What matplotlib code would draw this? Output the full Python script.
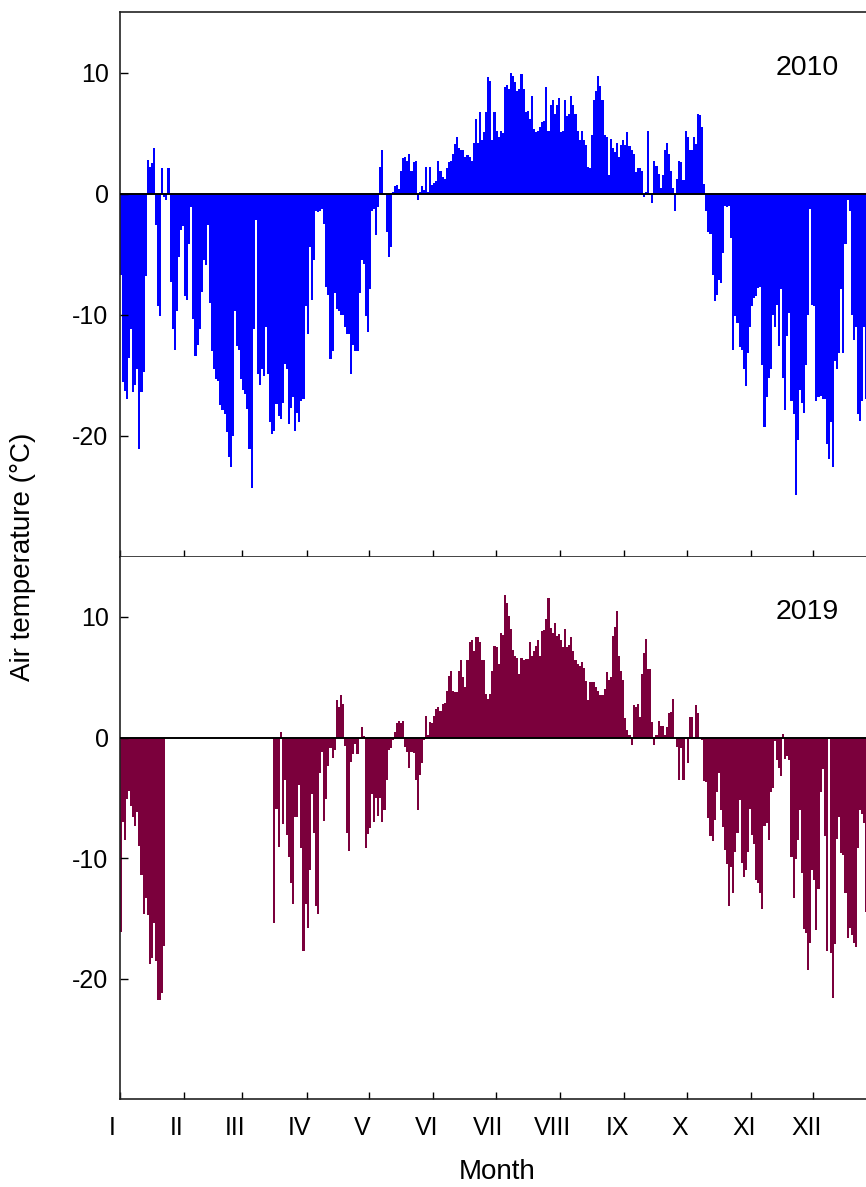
import numpy as np
import matplotlib
matplotlib.use('Agg')
import matplotlib.pyplot as plt
from matplotlib.transforms import ScaledTranslation

plt.rcParams['font.family'] = ['Liberation Sans', 'DejaVu Sans']
plt.rcParams['axes.unicode_minus'] = False

# daily mean air temperature, 2010 (days 0..364)
t2010_jan_mar = [
    -6.7, -15.6, -16.3, -17.0, -13.6, -11.2, -16.4, -15.8, -14.5, -21.1,
    -16.4, -14.7, -6.8, 2.8, 2.2, 2.5, 3.8, -2.6, -9.3, -10.1,
    2.1, -0.3, -0.5, 2.1, -7.3, -11.2, -12.9, -9.7, -5.2, -3.0,
    -2.7, -8.5, -8.8, -4.2, -1.1, -10.4, -13.4, -12.5, -11.2, -8.1,
    -5.5, -5.9, -2.6, -9.0, -13.0, -14.5, -15.3, -15.5, -17.5, -17.9,
    -18.2, -19.7, -21.8, -22.6, -20.0, -9.7, -12.6, -12.9, -15.3, -16.2,
    -16.6, -17.8, -21.1, -24.3, -11.2, -2.2, -14.9, -15.8, -14.5, -15.1,
    -11.0, -14.9, -18.9, -19.9, -19.6, -17.4, -18.4, -18.6, -17.3, -14.1,
    -14.5, -19.0, -17.7, -16.8, -19.6, -18.1, -18.9, -17.1, -17.0, -9.3,
    -11.6,
]
t2010_apr_jun = [
    -4.4, -8.8, -5.5, -1.4, -1.5, -1.4, -1.3, -2.5, -7.7, -8.4,
    -13.7, -13.0, -8.2, -9.5, -9.7, -10.0, -10.0, -11.0, -11.6, -11.6,
    -14.9, -12.5, -13.0, -13.0, -8.2, -5.5, -5.8, -10.1, -11.4, -7.9,
    -1.4, -1.3, -3.4, -1.1, 2.2, 3.6, -0.1, -3.2, -5.2, -4.4,
    0.1, 0.6, 0.7, 0.4, 1.9, 2.9, 3.0, 2.7, 3.3, 1.9,
    2.6, 2.7, -0.5, 0.1, 0.6, 0.3, 2.2, 0.1, 2.2, 0.7,
    0.9, 1.0, 2.7, 1.9, 1.4, 1.2, 2.1, 2.6, 2.7, 3.3,
    4.1, 4.7, 3.8, 3.6, 3.6, 3.0, 3.2, 3.0, 2.7, 4.2,
    6.2, 4.2, 6.7, 4.4, 5.1, 6.7, 9.6, 9.3, 4.4, 6.7,
    5.2, 4.7, 5.2, 5.0,
]
t2010_jul_oct = [
    8.8, 9.0, 8.6, 10.0, 9.7, 9.2, 8.5, 8.6, 9.9, 8.6,
    6.7, 6.8, 6.2, 8.1, 5.3, 5.1, 5.2, 5.5, 5.9, 6.0,
    8.8, 5.2, 7.3, 7.7, 6.6, 7.3, 7.9, 5.1, 5.2, 7.7,
    6.4, 6.6, 8.1, 7.3, 6.6, 5.2, 4.4, 5.2, 4.4, 4.0,
    2.2, 2.1, 4.8, 7.7, 8.5, 9.7, 8.9, 7.7, 4.8, 4.7,
    1.5, 4.5, 3.8, 3.4, 4.2, 3.0, 4.0, 4.4, 4.0, 5.1,
    3.9, 3.6, 3.3, 1.8, 2.1, 2.1, 1.9, -0.3, 0.1, 5.2,
    -0.1, -0.8, 2.7, 2.3, 1.6, 0.5, 1.5, 3.6, 4.2, 3.3,
    1.9, 0.5, -1.4, 1.2, 2.7, 2.6, 1.1, 5.2, 4.7, 3.6,
    3.6, 4.7, 4.1, 6.6, 6.5, 5.5, 0.8,
]
t2010_oct_dec = [
    -1.4, -3.2, -3.3, -6.7, -8.9, -8.4, -7.1, -7.4, -4.9, -1.0,
    -1.1, -1.0, -3.7, -12.9, -10.1, -10.7, -12.7, -12.9, -14.5, -15.9,
    -13.2, -11.0, -9.3, -8.6, -8.5, -7.8, -7.7, -14.2, -19.3, -16.8,
    -15.2, -14.5, -10.0, -11.0, -9.2, -12.6, -7.9, -15.2, -17.9, -11.8,
    -9.9, -17.1, -18.2, -24.9, -20.4, -16.2, -17.3, -18.1, -14.2, -10.0,
    -1.3, -9.2, -9.3, -17.1, -16.8, -16.7, -17.0, -17.0, -20.7, -21.9,
    -18.9, -22.6, -13.8, -14.5, -13.2, -7.9, -13.2, -4.2, -0.5, -1.4,
    -10.0, -12.1, -11.0, -18.2, -18.8, -17.1, -11.0, -17.0,
    -15.0, -12.0, -14.0, -16.0, -11.0,
]

# 2019, with a gap in the record from late January to mid March
t2019_jan = [
    -16.1, -7.0, -8.5, -5.1, -4.4, -5.7, -6.6, -7.3, -6.2, -9.0,
    -11.4, -14.6, -13.3, -14.7, -18.8, -18.3, -15.4, -18.5, -21.8, -21.8,
    -21.2, -17.3,
]
gap_2019 = [np.nan] * 52
t2019_mar_apr = [
    -15.4, -5.9, -9.1, 0.5, -7.2, -3.5, -8.1, -9.9, -12.1, -13.8,
    -6.6, -6.6, -3.9, -9.2, -17.7, -13.8, -15.8, -11.0, -4.7, -7.9,
    -14.0, -14.6, -2.9, -1.2, -6.9, -5.1, -2.4, -0.9, -1.7, -1.0,
    3.1, 2.5, 3.5, 2.8, -0.7, -7.9, -9.4, -2.0, -1.4, -0.5,
    -1.4, -0.1,
]
t2019_may_jul = [
    0.9, 0.1, -9.2, -8.0, -7.5, -4.7, -7.0, -5.0, -6.5, -5.0,
    -7.0, -6.0, -3.5, -1.0, -0.9, -0.2, 0.5, 1.2, 1.4, 1.2,
    1.4, -0.8, -1.2, -2.5, -1.2, -1.3, -3.5, -6.0, -3.1, -2.1,
    -0.2, 1.8, 0.2, 1.3, 1.2, 1.8, 2.4, 2.5, 2.2, 2.8,
    2.9, 3.9, 5.1, 5.5, 3.9, 3.8, 3.8, 5.5, 6.4, 5.0,
    4.2, 6.4, 7.9, 8.1, 7.2, 8.3, 8.3, 7.9, 6.4, 6.4,
    3.6, 3.2, 3.6, 5.5, 7.6, 7.5, 6.1, 8.7, 8.5, 11.8,
]
t2019_jul_oct = [
    11.2, 10.1, 9.0, 7.3, 6.8, 6.6, 5.3, 6.6, 6.4, 6.5,
    6.5, 7.9, 6.8, 7.2, 7.6, 8.1, 6.8, 8.8, 8.9, 9.8,
    11.6, 9.1, 8.7, 9.5, 8.4, 8.6, 8.1, 7.5, 9.0, 7.5,
    7.7, 8.3, 7.2, 6.4, 6.1, 5.9, 6.3, 5.8, 4.7, 3.1,
    4.6, 4.6, 4.6, 4.2, 3.9, 3.5, 3.5, 4.0, 5.4, 4.8,
    5.0, 8.4, 9.2, 10.5, 6.8, 5.5, 4.8, 1.6, 0.6, 0.2,
    -0.6, 2.7, 2.5, 2.8, 1.7, 5.3, 7.0, 8.2, 5.7, 5.7,
    1.3, -0.6, 0.2, 1.4, 1.0, 1.0, 0.2, 0.9, 2.0, 2.1,
    3.2, 0.0, -0.8, -3.5, -0.9, -3.5, -0.1, -2.1, 1.7, 1.7,
    0.0, 2.7, 2.0, 0.0, -0.2,
]
t2019_oct_dec = [
    -3.6, -3.7, -6.7, -8.2, -8.6, -6.8, -4.5, -2.9, -6.0, -7.4,
    -9.3, -10.5, -14.0, -10.7, -12.9, -9.5, -7.9, -5.2, -10.4, -11.6,
    -11.0, -9.5, -5.9, -8.1, -8.8, -11.8, -12.1, -12.9, -14.2, -7.3,
    -7.1, -8.5, -4.5, -4.2, -0.3, -1.9, -2.5, -3.2, 0.3, -1.8,
    -1.5, -1.9, -9.9, -13.3, -10.1, -8.5, -6.0, -11.2, -15.9, -16.2,
    -19.3, -17.0, -11.0, -11.8, -16.0, -12.6, -4.5, -2.6, -8.2, -17.7,
    -0.1, -17.9, -21.6, -17.1, -8.4, -6.6, -9.6, -9.7, -12.9, -16.6,
    -15.8, -16.4, -17.0, -17.4, -9.2, -6.0, -6.3, -7.1, -14.5,
    -12.0, -9.0, -13.5, -10.0, -8.0,
]

month_start = [0, 31, 59, 90, 120, 151, 181, 212, 243, 273, 304, 334]
month_labels = ['I', 'II', 'III', 'IV', 'V', 'VI', 'VII', 'VIII', 'IX', 'X', 'XI', 'XII']

t2010 = np.array(t2010_jan_mar + t2010_apr_jun + t2010_jul_oct + t2010_oct_dec)
t2019 = np.array(t2019_jan + gap_2019 + t2019_mar_apr + t2019_may_jul
                 + t2019_jul_oct + t2019_oct_dec)

panels = [(t2010, '2010', '#0000ff'), (t2019, '2019', '#7b003c')]

fig = plt.figure(figsize=(8.66, 11.87), dpi=100)
ax_top = fig.add_axes([0.1382, 0.5310, 0.8753, 0.4589])
ax_bot = fig.add_axes([0.1382, 0.0739, 0.8753, 0.4571], sharex=ax_top)

for ax, (vals, year, color) in zip([ax_top, ax_bot], panels):
    days = np.arange(len(vals))
    ax.bar(days, np.nan_to_num(vals), width=1.0, align='edge', color=color,
           linewidth=0)
    ax.axhline(0, color='black', linewidth=1.4, zorder=3)
    ax.set_ylim(-30, 15)
    ax.set_xlim(0, 365)
    ax.set_yticks([-20, -10, 0, 10])
    ax.tick_params(axis='y', direction='in', length=6, width=1.0,
                   labelsize=18, pad=8)
    ax.tick_params(axis='x', direction='in', length=5, width=1.0,
                   labelsize=18, pad=12)
    ax.set_xticks(month_start)
    for sp in ax.spines.values():
        sp.set_linewidth(1.2)
        sp.set_color('#222222')
    ax.text(331, 10.4, year, fontsize=20.5, ha='center', va='center')

ax_top.tick_params(axis='x', labelbottom=False)
ax_bot.spines['top'].set_visible(False)
ax_bot.set_xticklabels(month_labels)
# labels in the original sit a bit left of the month-start ticks
shift = ScaledTranslation(-7 / 100, 0, fig.dpi_scale_trans)
for lab in ax_bot.get_xticklabels():
    lab.set_transform(lab.get_transform() + shift)

fig.text(0.027, 0.531, 'Air temperature (°C)', rotation=90, fontsize=20,
         ha='center', va='center')
fig.text(0.574, 1 - 1172 / 1187, 'Month', fontsize=20, ha='center', va='center')

fig.savefig('out.png', dpi=100)
